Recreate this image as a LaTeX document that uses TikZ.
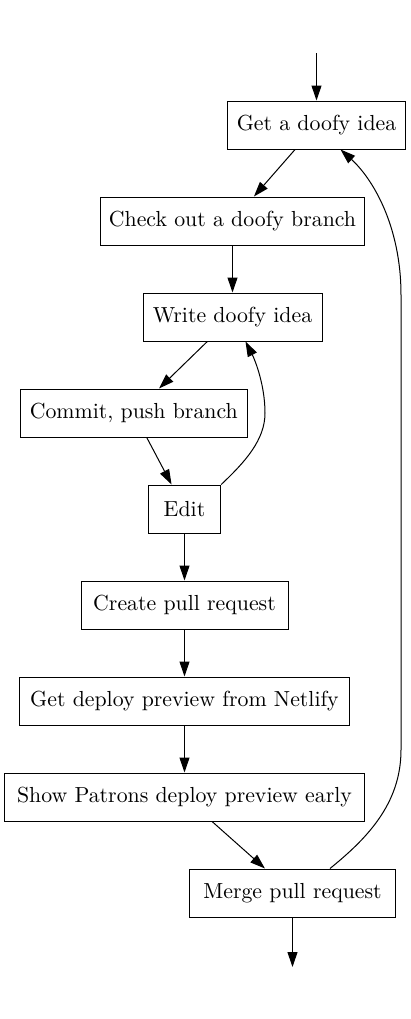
\documentclass[tikz,border=0pt]{standalone}
\usetikzlibrary{arrows.meta}
\begin{document}
\begin{tikzpicture}[x=0.5pt,y=-0.5pt,
    stepbox/.style={draw,line width=0.5pt,rectangle,minimum height=24pt,
      inner xsep=4pt,font=\fontsize{10.9}{12}\selectfont},
    flow/.style={line width=0.5pt,-{Triangle[length=7.5pt,width=5pt]}}]
  \useasboundingbox (0,0) rectangle (411,1019);

  \node[stepbox,minimum width=88.8pt] (idea) at (316.5,125) {Get a doofy idea};
  \node[stepbox,minimum width=132.2pt] (branch) at (232.5,221) {Check out a doofy branch};
  \node[stepbox,minimum width=89.5pt] (write) at (232.5,317) {Write doofy idea};
  \node[stepbox,minimum width=113.5pt] (commit) at (133.8,413) {Commit, push branch};
  \node[stepbox,minimum width=36.2pt] (edit) at (184.5,509) {Edit};
  \node[stepbox,minimum width=103.5pt] (pr) at (184.5,605) {Create pull request};
  \node[stepbox,minimum width=164.8pt] (netlify) at (184.5,701) {Get deploy preview from Netlify};
  \node[stepbox,minimum width=179.7pt] (patrons) at (184.5,797) {Show Patrons deploy preview early};
  \node[stepbox,minimum width=102.8pt] (merge) at (292.5,893) {Merge pull request};

  \coordinate (start) at (316.5,53);
  \coordinate (finish) at (292.5,967);

  \draw[flow] (start) -- (idea);
  \draw[flow] (idea) -- (branch);
  \draw[flow] (branch) -- (write);
  \draw[flow] (write) -- (commit);
  \draw[flow] (commit) -- (edit);
  \draw[flow] (edit.north east) .. controls (245,462) and (265,440) .. (265,413)
    .. controls (265,385) and (255,360) .. ([xshift=6.5pt]write.south);
  \draw[flow] (edit) -- (pr);
  \draw[flow] (pr) -- (netlify);
  \draw[flow] (netlify) -- (patrons);
  \draw[flow] (patrons) -- (merge);
  \draw[flow] ([xshift=18.75pt]merge.north) .. controls (365,840) and (401,805) .. (401,750)
    -- (401,295) .. controls (401,225) and (372,178) .. ([xshift=12pt]idea.south);
  \draw[flow] (merge) -- (finish);
\end{tikzpicture}
\end{document}
